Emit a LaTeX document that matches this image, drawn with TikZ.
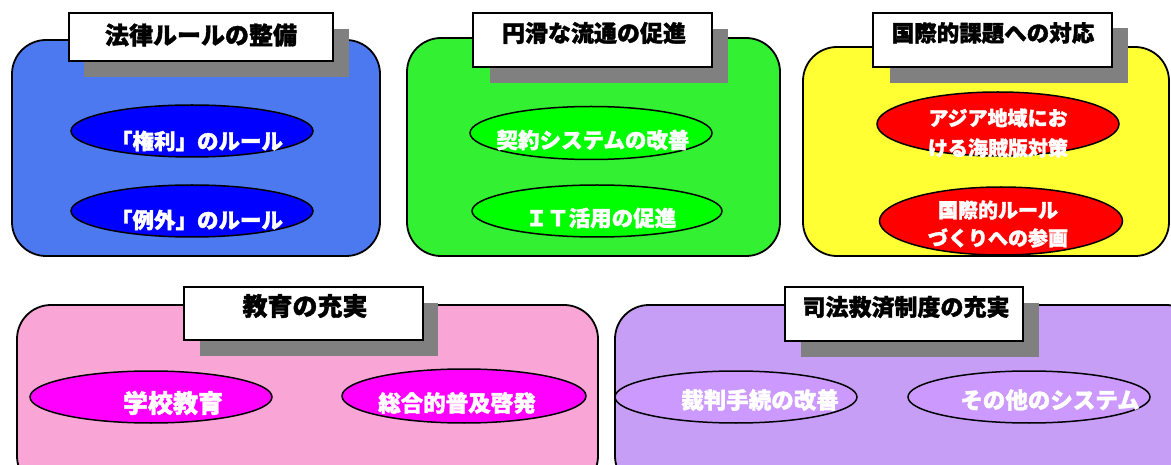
\documentclass[tikz,border=0pt]{standalone}
\usepackage{fontspec}
\newfontfamily\jp{Noto Sans CJK JP}[FakeBold=1.6]
\definecolor{cblue}{HTML}{4D79F0}
\definecolor{cgreen}{HTML}{33F033}
\definecolor{cyellow}{HTML}{FFFF33}
\definecolor{cpink}{HTML}{F9A6D6}
\definecolor{cpurple}{HTML}{C79EF5}
\definecolor{eblue}{HTML}{0000FF}
\definecolor{egreen}{HTML}{00FF00}
\definecolor{ered}{HTML}{FF0000}
\definecolor{emag}{HTML}{FF00FF}
\definecolor{epur}{HTML}{CC99FF}
\definecolor{shadowgray}{HTML}{808080}
\tikzset{
  panel/.style={draw=black, line width=1.8pt, rounded corners=34pt},
  titlebox/.style={fill=white, draw=black, line width=1.8pt},
  titletext/.style={font=\jp\bfseries\fontsize{24}{26}\selectfont, text=black, inner sep=0pt},
  oval/.style={ellipse, draw=black, line width=1.5pt, inner sep=0pt},
  ovaltext/.style={font=\jp\bfseries\fontsize{21.5}{28}\selectfont, text=white, inner sep=0pt, align=center},
}
\usetikzlibrary{shapes.geometric}
\begin{document}
\begin{tikzpicture}[x=1pt,y=-1pt]
\useasboundingbox (0,0) rectangle (1171,465);
\clip (0,0) rectangle (1171,465);
% panels
\draw[panel, fill=cblue] (12,40) rectangle (380,256);
\draw[panel, fill=cgreen] (407,38) rectangle (780,256);
\draw[panel, fill=cyellow] (803,47) rectangle (1169,256);
\draw[panel, fill=cpink] (17,305) rectangle (598,490);
\draw[panel, fill=cpurple] (615,305) rectangle (1200,490);
% title shadows and boxes
\fill[shadowgray] (84,29) rectangle (349,77);
\draw[titlebox] (69,13) rectangle (333,61);
\fill[shadowgray] (490,29) rectangle (728,83);
\draw[titlebox] (473,13) rectangle (712,67);
\fill[shadowgray] (890,28) rectangle (1128,83);
\draw[titlebox] (873,13) rectangle (1112,67);
\fill[shadowgray] (200,303) rectangle (438,356);
\draw[titlebox] (184,287) rectangle (423,340);
\fill[shadowgray] (801,303) rectangle (1039,357);
\draw[titlebox] (785,287) rectangle (1023,341);
\node[titletext] (t1) at (201,35) {法律ルールの整備};
\node[titletext, font=\jp\bfseries\fontsize{23}{26}\selectfont] (t2) at (594,33) {円滑な流通の促進};
\node[titletext, font=\jp\bfseries\fontsize{22.5}{26}\selectfont] (t3) at (993,33) {国際的課題への対応};
\node[titletext, font=\jp\bfseries\fontsize{25}{26}\selectfont] (t4) at (305,306) {教育の充実};
\node[titletext, font=\jp\bfseries\fontsize{23}{26}\selectfont] (t5) at (906,307) {司法救済制度の充実};
% ellipses
\node[oval, fill=eblue, minimum width=242pt, minimum height=52pt] (b1) at (192,131) {};
\node[oval, fill=eblue, minimum width=242pt, minimum height=52pt] (b2) at (192,211) {};
\node[oval, fill=egreen, minimum width=242pt, minimum height=53pt] (g1) at (591,133) {};
\node[oval, fill=egreen, minimum width=250pt, minimum height=52pt] (g2) at (597,211) {};
\node[oval, fill=ered, minimum width=242pt, minimum height=64pt] (r1) at (998,124) {};
\node[oval, fill=ered, minimum width=243pt, minimum height=68pt] (r2) at (1001,221) {};
\node[oval, fill=emag, minimum width=242pt, minimum height=52pt] (m1) at (151,397) {};
\node[oval, fill=emag, minimum width=244pt, minimum height=54pt] (m2) at (464,396) {};
\node[oval, fill=epur, minimum width=242pt, minimum height=52pt] (p1) at (736,397) {};
\node[oval, fill=epur, minimum width=242pt, minimum height=52pt] (p2) at (1029,397) {};
% ellipse texts
\node[ovaltext] (b1t) at (197,141) {「権利」のルール};
\node[ovaltext] (b2t) at (197,220) {「例外」のルール};
\node[ovaltext] (g1t) at (593,140) {契約システムの改善};
\node[ovaltext] (g2t) at (601,218) {ＩＴ活用の促進};
\node[ovaltext, font=\jp\bfseries\fontsize{20}{30}\selectfont] (r1t) at (998,133) {アジア地域にお\\ける海賊版対策};
\node[ovaltext, font=\jp\bfseries\fontsize{20}{28}\selectfont] (r2t) at (998,224) {国際的ルール\\づくりへの参画};
\node[ovaltext, font=\jp\bfseries\fontsize{25}{28}\selectfont] (m1t) at (173,403) {学校教育};
\node[ovaltext, font=\jp\bfseries\fontsize{22.5}{28}\selectfont] (m2t) at (457,403) {総合的普及啓発};
\node[ovaltext, font=\jp\bfseries\fontsize{22.5}{28}\selectfont] (p1t) at (760,400) {裁判手続の改善};
\node[ovaltext, font=\jp\bfseries\fontsize{22.5}{28}\selectfont] (p2t) at (1050,400) {その他のシステム};
\end{tikzpicture}
\end{document}
